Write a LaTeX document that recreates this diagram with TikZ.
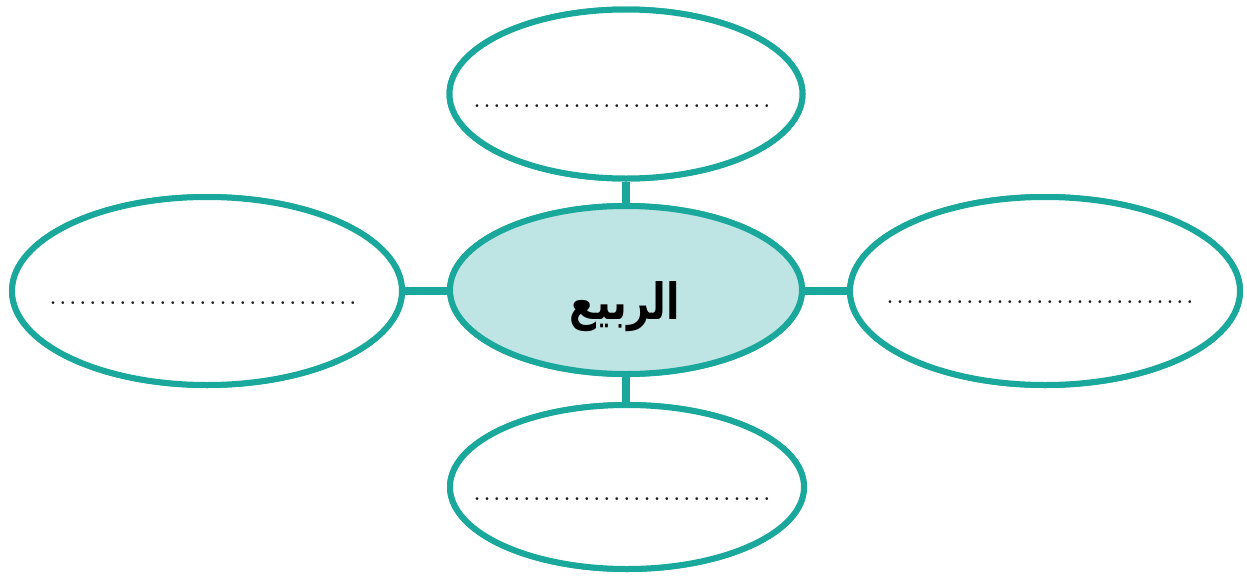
\documentclass[tikz,border=0pt]{standalone}
\usepackage{fontspec}
\usepackage{graphicx}
\usetikzlibrary{shapes.geometric}
\TeXXeTstate=1
\newfontfamily\arabicfont[Script=Arabic]{DejaVu Sans}
\definecolor{tealline}{RGB}{26,168,156}
\definecolor{tealfill}{RGB}{191,228,228}
\newcommand{\dotrow}[1]{\fontsize{34}{34}\selectfont\hbox to #1{\leaders\hbox to 10pt{\hss.\hss}\hfill}}
\begin{document}
\begin{tikzpicture}[x=1pt,y=-1pt,
  bubble/.style={ellipse,draw=tealline,line width=6pt,inner sep=0pt,fill=white},
  link/.style={draw=tealline,line width=7.5pt},
  dots/.style={inner sep=0pt,anchor=base,text=black!90}]
\fill[white] (0,0) rectangle (1247,576);
\useasboundingbox (0,0) rectangle (1247,576);
% nodes
\node (top) [bubble, minimum width=353pt, minimum height=169pt] at (626,94) {};
\node (mid) [bubble, fill=tealfill, minimum width=352pt, minimum height=168pt] at (626,290) {};
\node (left) [bubble, minimum width=390pt, minimum height=188pt] at (207,291) {};
\node (right) [bubble, minimum width=390pt, minimum height=188pt] at (1045,291) {};
\node (bot) [bubble, minimum width=354pt, minimum height=164pt] at (627,487) {};
% connectors
\draw[link] (top.south) -- (mid.north);
\draw[link] (mid.south) -- (bot.north -| mid.south);
\draw[link] (left.east) -- (left.east -| mid.west);
\draw[link] (right.west -| mid.east) -- (right.west);
% redraw borders over connector ends
\node[bubble, minimum width=353pt, minimum height=169pt] at (top) {};
\node[bubble, fill=tealfill, minimum width=352pt, minimum height=168pt] at (mid) {};
\node[bubble, minimum width=390pt, minimum height=188pt] at (left) {};
\node[bubble, minimum width=390pt, minimum height=188pt] at (right) {};
\node[bubble, minimum width=354pt, minimum height=164pt] at (bot) {};
% texts
\node (midtext) at (625,307) {\scalebox{0.98}[1.25]{\arabicfont\bfseries\fontsize{40}{44}\selectfont\beginR الربيع\endR}};
\node (topdots) [dots] at (625,107) {\dotrow{306pt}};
\node (leftdots) [dots] at (206,304) {\dotrow{316pt}};
\node (rightdots) [dots] at (1043,303) {\dotrow{316pt}};
\node (botdots) [dots] at (625,500) {\dotrow{306pt}};
\end{tikzpicture}
\end{document}
